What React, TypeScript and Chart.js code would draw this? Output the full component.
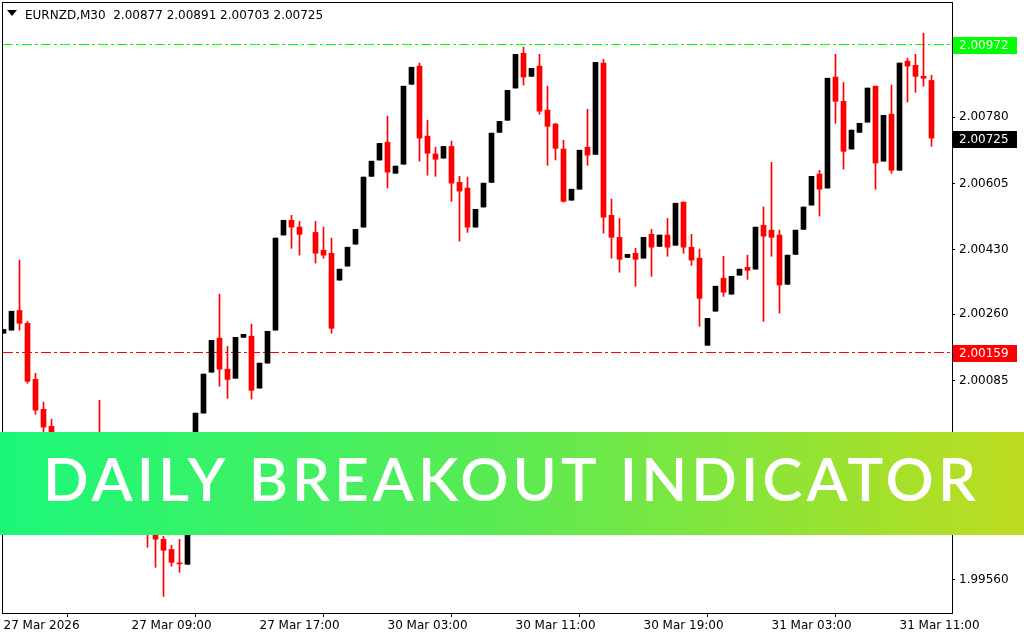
import React, { useEffect, useRef } from 'react';
import { Chart, registerables } from 'chart.js';

Chart.register(...registerables);

const SYMBOL = 'EURNZD,M30';

// OHLC of each M30 candle (index 38 is an empty slot in the reference)
const opens: (number | null)[] = [
  2.00210, 2.00218, 2.00270, 2.00236, 2.00088, 2.00009, 1.99964, 1.99914, 1.99869, 1.99901,
  1.99848, 1.99801, 1.99827, 1.99809, 1.99769, 1.99790, 1.99743, 1.99716, 1.99737, 1.99711,
  1.99666, 1.99639, 1.99603, 1.99600, 1.99848, 1.99999, 2.00107, 2.00197, 2.00115, 2.00091,
  2.00199, 2.00202, 2.00065, 2.00131, 2.00218, 2.00469, 2.00508, 2.00490, null, 2.00476,
  2.00429, 2.00421, 2.00350, 2.00387, 2.00445, 2.00490, 2.00624, 2.00667, 2.00714, 2.00632,
  2.00656, 2.00867, 2.00915, 2.00730, 2.00683, 2.00672, 2.00703, 2.00608, 2.00593, 2.00490,
  2.00543, 2.00608, 2.00740, 2.00772, 2.00857, 2.00949, 2.00888, 2.00915, 2.00799, 2.00762,
  2.00696, 2.00561, 2.00590, 2.00701, 2.00682, 2.00923, 2.00521, 2.00463, 2.00410, 2.00421,
  2.00408, 2.00471, 2.00439, 2.00469, 2.00442, 2.00556, 2.00437, 2.00408, 2.00178, 2.00268,
  2.00355, 2.00313, 2.00363, 2.00384, 2.00379, 2.00495, 2.00482, 2.00469, 2.00339, 2.00418,
  2.00484, 2.00548, 2.00630, 2.00593, 2.00886, 2.00822, 2.00696, 2.00740, 2.00767, 2.00862,
  2.00664, 2.00788, 2.00640, 2.00928, 2.00917, 2.00888, 2.00877,
];
const highs: (number | null)[] = [
  2.00220, 2.00268, 2.00403, 2.00241, 2.00104, 2.00028, 1.99983, 1.99927, 1.99911, 1.99909,
  1.99859, 1.99838, 2.00033, 1.99819, 1.99801, 1.99798, 1.99753, 1.99748, 1.99748, 1.99721,
  1.99674, 1.99650, 1.99666, 1.99848, 1.99999, 2.00102, 2.00191, 2.00313, 2.00175, 2.00199,
  2.00207, 2.00234, 2.00131, 2.00215, 2.00461, 2.00508, 2.00521, 2.00505, null, 2.00505,
  2.00490, 2.00461, 2.00379, 2.00437, 2.00484, 2.00622, 2.00664, 2.00711, 2.00783, 2.00651,
  2.00862, 2.00912, 2.00923, 2.00772, 2.00701, 2.00703, 2.00717, 2.00624, 2.00622, 2.00537,
  2.00606, 2.00738, 2.00769, 2.00851, 2.00946, 2.00965, 2.00909, 2.00946, 2.00862, 2.00764,
  2.00719, 2.00590, 2.00693, 2.00801, 2.00925, 2.00933, 2.00564, 2.00513, 2.00418, 2.00434,
  2.00463, 2.00484, 2.00469, 2.00513, 2.00553, 2.00556, 2.00471, 2.00432, 2.00249, 2.00334,
  2.00413, 2.00360, 2.00379, 2.00416, 2.00490, 2.00543, 2.00661, 2.00482, 2.00416, 2.00482,
  2.00543, 2.00624, 2.00640, 2.00883, 2.00946, 2.00872, 2.00746, 2.00764, 2.00857, 2.00862,
  2.00785, 2.00865, 2.00923, 2.00936, 2.00946, 2.01002, 2.00891,
];
const lows: (number | null)[] = [
  2.00210, 2.00218, 2.00218, 2.00078, 1.99996, 1.99927, 1.99896, 1.99853, 1.99859, 1.99835,
  1.99785, 1.99790, 1.99782, 1.99756, 1.99758, 1.99729, 1.99703, 1.99700, 1.99645, 1.99592,
  1.99515, 1.99595, 1.99579, 1.99600, 1.99848, 1.99999, 2.00107, 2.00070, 2.00038, 2.00091,
  2.00199, 2.00036, 2.00065, 2.00131, 2.00218, 2.00469, 2.00434, 2.00416, null, 2.00395,
  2.00408, 2.00210, 2.00350, 2.00387, 2.00445, 2.00490, 2.00624, 2.00667, 2.00593, 2.00632,
  2.00656, 2.00867, 2.00664, 2.00627, 2.00624, 2.00672, 2.00558, 2.00453, 2.00476, 2.00490,
  2.00543, 2.00608, 2.00740, 2.00772, 2.00857, 2.00865, 2.00888, 2.00788, 2.00653, 2.00667,
  2.00556, 2.00561, 2.00590, 2.00653, 2.00682, 2.00474, 2.00408, 2.00371, 2.00410, 2.00334,
  2.00408, 2.00360, 2.00439, 2.00413, 2.00442, 2.00421, 2.00389, 2.00228, 2.00178, 2.00268,
  2.00307, 2.00313, 2.00363, 2.00352, 2.00379, 2.00241, 2.00413, 2.00263, 2.00339, 2.00418,
  2.00484, 2.00548, 2.00519, 2.00593, 2.00764, 2.00643, 2.00696, 2.00740, 2.00767, 2.00590,
  2.00664, 2.00632, 2.00640, 2.00820, 2.00846, 2.00862, 2.00703,
];
const closes: (number | null)[] = [
  2.00220, 2.00268, 2.00236, 2.00083, 2.00007, 1.99962, 1.99914, 1.99869, 1.99901, 1.99848,
  1.99801, 1.99827, 1.99809, 1.99769, 1.99790, 1.99743, 1.99716, 1.99737, 1.99703, 1.99666,
  1.99637, 1.99605, 1.99601, 1.99848, 1.99999, 2.00102, 2.00191, 2.00115, 2.00088, 2.00199,
  2.00207, 2.00059, 2.00131, 2.00215, 2.00461, 2.00508, 2.00490, 2.00471, null, 2.00421,
  2.00416, 2.00223, 2.00379, 2.00437, 2.00484, 2.00622, 2.00664, 2.00711, 2.00635, 2.00651,
  2.00862, 2.00912, 2.00725, 2.00685, 2.00669, 2.00703, 2.00606, 2.00585, 2.00490, 2.00537,
  2.00606, 2.00738, 2.00769, 2.00851, 2.00946, 2.00886, 2.00909, 2.00796, 2.00756, 2.00698,
  2.00558, 2.00590, 2.00693, 2.00680, 2.00925, 2.00516, 2.00463, 2.00405, 2.00418, 2.00405,
  2.00463, 2.00437, 2.00469, 2.00437, 2.00553, 2.00437, 2.00403, 2.00302, 2.00249, 2.00334,
  2.00318, 2.00360, 2.00379, 2.00376, 2.00490, 2.00466, 2.00463, 2.00337, 2.00416, 2.00482,
  2.00543, 2.00624, 2.00590, 2.00883, 2.00822, 2.00690, 2.00746, 2.00764, 2.00857, 2.00659,
  2.00785, 2.00640, 2.00923, 2.00915, 2.00888, 2.00883, 2.00725,
];

const xTickIndex = [0, 16, 32, 48, 64, 80, 96, 112];
const xTickLabels = [
  '27 Mar 2026', '27 Mar 09:00', '27 Mar 17:00', '30 Mar 03:00',
  '30 Mar 11:00', '30 Mar 19:00', '31 Mar 03:00', '31 Mar 11:00',
];
const yTicks = [1.9956, 1.99735, 1.9991, 2.00085, 2.0026, 2.0043, 2.00605, 2.0078, 2.00955];

const dailyHigh = 2.00972;
const dailyLow = 2.00159;
const bannerText = 'DAILY BREAKOUT INDICATOR';

const X_MIN = -0.0625;
const X_MAX = 118.5625;
const Y_MIN = 1.9947138;
const Y_MAX = 2.0108154;

const FONT = 'DejaVu Sans';

export default function App() {
  const canvasRef = useRef<HTMLCanvasElement | null>(null);

  useEffect(() => {
    const canvas = canvasRef.current;
    if (!canvas) return;

    const idx = opens.map((_, i) => i).filter((i) => opens[i] !== null);
    const bull = (i: number) => (closes[i] as number) >= (opens[i] as number);
    const colorOf = (i: number) => (bull(i) ? '#000000' : '#ff0000');

    const bodyData = idx.map((i) => ({
      x: i,
      y: [Math.min(opens[i] as number, closes[i] as number), Math.max(opens[i] as number, closes[i] as number)],
    }));
    const wickData = idx.map((i) => ({ x: i, y: [lows[i] as number, highs[i] as number] }));
    const colors = idx.map(colorOf);

    const last = opens.length - 1;
    const lastClose = closes[last] as number;

    const framePlugin = {
      id: 'frame',
      beforeDatasetsDraw(chart: any) {
        const { ctx, chartArea: a } = chart;
        ctx.save();
        ctx.strokeStyle = '#000';
        ctx.lineWidth = 1;
        ctx.strokeRect(a.left - 0.5, a.top - 0.5, a.right - a.left + 1, a.bottom - a.top + 1);
        ctx.restore();
      },
    };

    const overlayPlugin = {
      id: 'overlay',
      afterDraw(chart: any) {
        const { ctx } = chart;
        const y = chart.scales.y;
        ctx.save();

        // header
        ctx.fillStyle = '#000';
        ctx.beginPath();
        ctx.moveTo(7, 10);
        ctx.lineTo(17, 10);
        ctx.lineTo(12, 16);
        ctx.closePath();
        ctx.fill();
        ctx.font = `12px "${FONT}"`;
        ctx.textAlign = 'left';
        ctx.textBaseline = 'alphabetic';
        const hdr = `${SYMBOL}  ${(opens[last] as number).toFixed(5)} ${(highs[last] as number).toFixed(5)} ${(lows[last] as number).toFixed(5)} ${lastClose.toFixed(5)}`;
        ctx.fillText(hdr, 25, 18.5);

        // price boxes on the axis
        const box = (v: number, bg: string) => {
          const py = Math.round(y.getPixelForValue(v));
          ctx.fillStyle = bg;
          ctx.fillRect(953, py - 7, 64, 17);
          ctx.fillStyle = '#ffffff';
          ctx.textBaseline = 'middle';
          ctx.fillText(v.toFixed(5), 959, py + 1.5);
        };
        box(dailyHigh, '#00ff00');
        box(lastClose, '#000000');
        box(dailyLow, '#ff0000');

        // banner
        const g = ctx.createLinearGradient(0, 0, 1024, 0);
        g.addColorStop(0, 'rgb(27,247,122)');
        g.addColorStop(0.33, 'rgb(70,239,95)');
        g.addColorStop(0.5, 'rgb(92,234,82)');
        g.addColorStop(0.75, 'rgb(140,228,55)');
        g.addColorStop(1, 'rgb(190,220,32)');
        ctx.fillStyle = g;
        ctx.fillRect(0, 432, 1024, 103);
        ctx.font = '600 60px Lato';
        (ctx as any).letterSpacing = '0px';
        const w = ctx.measureText(bannerText).width;
        const ls = (933 - w) / (bannerText.length - 1);
        (ctx as any).letterSpacing = `${ls}px`;
        ctx.fillStyle = '#ffffff';
        ctx.textBaseline = 'alphabetic';
        ctx.textAlign = 'left';
        ctx.fillText(bannerText, 43, 501);
        (ctx as any).letterSpacing = '0px';
        ctx.restore();
      },
    };

    const chart = new Chart(canvas, {
      type: 'bar',
      data: {
        datasets: [
          {
            type: 'bar',
            data: bodyData as any,
            backgroundColor: colors,
            barThickness: 5,
            grouped: false,
            minBarLength: 1,
            borderWidth: 0,
            order: 1,
          } as any,
          {
            type: 'bar',
            data: wickData as any,
            backgroundColor: colors,
            barThickness: 1,
            grouped: false,
            borderWidth: 0,
            order: 2,
          } as any,
          {
            type: 'line',
            data: [{ x: X_MIN, y: dailyHigh }, { x: X_MAX, y: dailyHigh }],
            borderColor: 'rgb(0,255,0)',
            backgroundColor: 'rgb(0,255,0)',
            borderWidth: 1,
            borderDash: [10, 3, 3, 3],
            pointRadius: 0,
            fill: false,
            order: 3,
          } as any,
          {
            type: 'line',
            data: [{ x: X_MIN, y: dailyLow }, { x: X_MAX, y: dailyLow }],
            borderColor: 'rgb(255,0,0)',
            backgroundColor: 'rgb(255,0,0)',
            borderWidth: 1,
            borderDash: [10, 3, 3, 3],
            pointRadius: 0,
            fill: false,
            order: 3,
          } as any,
        ],
      },
      options: {
        responsive: false,
        animation: false,
        events: [],
        layout: { padding: { left: 3, top: 3, right: 0, bottom: 0 }, autoPadding: false } as any,
        plugins: { legend: { display: false }, tooltip: { enabled: false } },
        scales: {
          x: {
            type: 'linear',
            position: 'bottom',
            min: X_MIN,
            max: X_MAX,
            offset: false,
            bounds: 'data',
            border: { display: false },
            grid: { drawOnChartArea: false, drawTicks: true, tickLength: 4, color: '#000000' },
            ticks: {
              autoSkip: false,
              maxRotation: 0,
              minRotation: 0,
              align: 'start',
              padding: 2,
              color: '#000000',
              font: { family: FONT, size: 12 },
              callback: (_v: any, i: number) => xTickLabels[i],
            },
            afterBuildTicks: (s: any) => {
              s.ticks = xTickIndex.map((v) => ({ value: v }));
            },
            afterFit: (s: any) => {
              s.height = 27;
              s.paddingLeft = 0;
              s.paddingRight = 0;
              s.paddingTop = 0;
              s.paddingBottom = 0;
            },
          } as any,
          y: {
            type: 'linear',
            position: 'right',
            min: Y_MIN,
            max: Y_MAX,
            bounds: 'data',
            border: { display: false },
            grid: { drawOnChartArea: false, drawTicks: true, tickLength: 3, color: '#000000' },
            ticks: {
              autoSkip: false,
              padding: 4,
              color: '#000000',
              font: { family: FONT, size: 12 },
              callback: (v: any) => Number(v).toFixed(5),
            },
            afterBuildTicks: (s: any) => {
              s.ticks = yTicks.map((v) => ({ value: v }));
            },
            afterFit: (s: any) => {
              s.width = 72;
              s.paddingLeft = 0;
              s.paddingRight = 0;
              s.paddingTop = 0;
              s.paddingBottom = 0;
            },
          } as any,
        },
      },
      plugins: [framePlugin, overlayPlugin],
    });

    return () => chart.destroy();
  }, []);

  return (
    <div style={{ position: 'absolute', left: 0, top: 0, width: 1024, height: 640, background: '#ffffff' }}>
      <canvas ref={canvasRef} width={1024} height={640} style={{ display: 'block' }} />
    </div>
  );
}
